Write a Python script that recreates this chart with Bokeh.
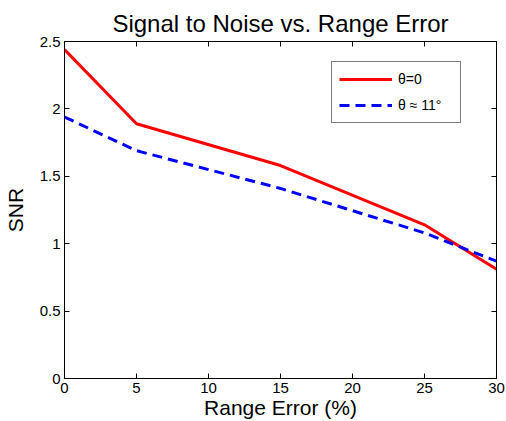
from bokeh.plotting import figure
from bokeh.models import Range1d, FixedTicker, LinearAxis, Legend, LegendItem, CustomJSTickFormatter
from bokeh.embed import file_html
from bokeh.resources import INLINE

range_error = [0, 5, 15, 25, 30]
snr_theta0 = [2.44, 1.89, 1.58, 1.14, 0.81]
snr_theta11 = [1.94, 1.69, 1.41, 1.08, 0.87]
x_ticks = [0, 5, 10, 15, 20, 25, 30]
y_ticks = [0, 0.5, 1, 1.5, 2, 2.5]
y_tick_labels = ["0", "0.5", "1", "1.5", "2", "2.5"]
series_labels = ["\u03b8=0", "\u03b8 \u2248 11\u00b0"]

FONT = "Liberation Sans"

p = figure(width=506, height=421, output_backend="svg", toolbar_location=None,
           x_range=Range1d(0, 30), y_range=Range1d(0, 2.5),
           min_border_left=64, min_border_right=10, min_border_top=41, min_border_bottom=43)
p.background_fill_color = "white"
p.border_fill_color = "white"
p.outline_line_color = "black"
p.outline_line_width = 1
p.grid.visible = False

p.title.text = "Signal to Noise vs. Range Error"
p.title.align = "center"
p.title.text_font = FONT
p.title.text_font_size = "24px"
p.title.text_font_style = "normal"
p.title.text_color = "black"

r1 = p.line(range_error, snr_theta0, line_color="#ff0000", line_width=3)
r2 = p.line(range_error, snr_theta11, line_color="#0000ff", line_width=3, line_dash="10 6")

def style_axis(ax):
    ax.major_tick_in = 5
    ax.major_tick_out = 0
    ax.minor_tick_in = 0
    ax.minor_tick_out = 0
    ax.axis_line_color = "black"
    ax.major_tick_line_color = "black"
    ax.major_label_text_font = FONT
    ax.major_label_text_font_size = "15px"
    ax.major_label_text_color = "black"
    ax.major_label_standoff = 4

xa = p.xaxis[0]
xa.ticker = FixedTicker(ticks=x_ticks)
style_axis(xa)
xa.axis_label = "Range Error (%)"
xa.axis_label_text_font = FONT
xa.axis_label_text_font_size = "21px"
xa.axis_label_text_font_style = "normal"
xa.axis_label_text_color = "black"
xa.axis_label_standoff = 0

ya = p.yaxis[0]
ya.ticker = FixedTicker(ticks=y_ticks)
ya.major_label_overrides = {t: l for t, l in zip(y_ticks, y_tick_labels)}
style_axis(ya)
ya.axis_label = "SNR"
ya.axis_label_text_font = FONT
ya.axis_label_text_font_size = "21px"
ya.axis_label_text_font_style = "normal"
ya.axis_label_text_color = "black"
ya.axis_label_standoff = 10

blank = CustomJSTickFormatter(code="return '';")
top = LinearAxis(ticker=FixedTicker(ticks=x_ticks), formatter=blank)
style_axis(top)
top.major_label_standoff = 0
p.add_layout(top, "above")
right = LinearAxis(ticker=FixedTicker(ticks=y_ticks), formatter=blank)
style_axis(right)
right.major_label_standoff = 0
p.add_layout(right, "right")

legend = Legend(items=[LegendItem(label=series_labels[0], renderers=[r1]),
                       LegendItem(label=series_labels[1], renderers=[r2])],
                location=(267, 255))
legend.label_text_font = FONT
legend.label_text_font_size = "14px"
legend.label_text_color = "black"
legend.border_line_color = "black"
legend.border_line_width = 1
legend.background_fill_alpha = 1
legend.glyph_width = 53
legend.glyph_height = 20
legend.spacing = 6
legend.padding = 7
legend.margin = 0
legend.label_standoff = 6
legend.label_width = 55
p.add_layout(legend, "center")

open("out.html", "w").write(file_html(p, INLINE))
